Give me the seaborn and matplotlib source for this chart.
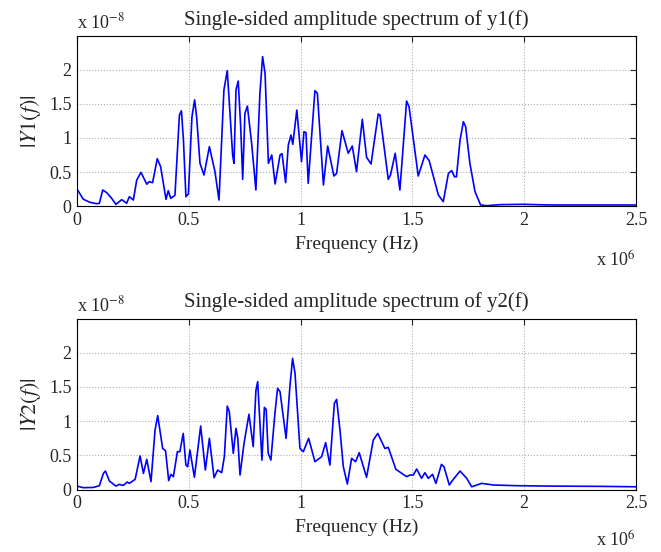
import numpy as np
import pandas as pd
import matplotlib
matplotlib.use("Agg")
import matplotlib.pyplot as plt
import seaborn as sns

# frequency in units of 1e6 Hz, amplitude in units of 1e-8
f1 = [0.0, 0.028, 0.058, 0.088, 0.100, 0.115, 0.133, 0.155, 0.174, 0.200, 0.222, 0.234, 0.252,
      0.267, 0.286, 0.312, 0.323, 0.338, 0.359, 0.374, 0.398, 0.408, 0.419, 0.438, 0.458,
      0.467, 0.476, 0.487, 0.498, 0.514, 0.526, 0.535, 0.550, 0.568, 0.592, 0.617, 0.635,
      0.657, 0.672, 0.696, 0.702, 0.711, 0.721, 0.732, 0.741, 0.751, 0.762, 0.781, 0.800,
      0.818, 0.830, 0.841, 0.856, 0.871, 0.886, 0.908, 0.917, 0.933, 0.945, 0.957, 0.965,
      0.983, 1.004, 1.015, 1.024, 1.034, 1.064, 1.075, 1.102, 1.121, 1.149, 1.161, 1.185,
      1.213, 1.231, 1.250, 1.276, 1.295, 1.315, 1.347, 1.355, 1.392, 1.402, 1.423, 1.444,
      1.474, 1.485, 1.526, 1.556, 1.575, 1.616, 1.638, 1.661, 1.676, 1.688, 1.697, 1.713,
      1.728, 1.738, 1.757, 1.780, 1.805, 1.832, 1.892, 1.996, 2.115, 2.264, 2.500]
y1 = [0.25, 0.10, 0.054, 0.034, 0.04, 0.235, 0.196, 0.113, 0.025, 0.093, 0.04, 0.137, 0.088,
      0.38, 0.495, 0.32, 0.358, 0.343, 0.696, 0.578, 0.098, 0.225, 0.113, 0.157, 1.338,
      1.40, 0.97, 0.137, 0.176, 1.31, 1.56, 1.31, 0.627, 0.456, 0.873, 0.505, 0.088,
      1.706, 1.99, 0.75, 0.627, 1.706, 1.838, 1.167, 0.392, 1.363, 1.47, 0.92, 0.235,
      1.657, 2.196, 1.95, 0.627, 0.75, 0.324, 0.75, 0.77, 0.343, 0.897, 1.044, 0.907,
      1.41, 0.652, 1.093, 1.078, 0.333, 1.696, 1.657, 0.309, 0.882, 0.441, 0.48, 1.108,
      0.775, 0.882, 0.505, 1.275, 0.716, 0.618, 1.353, 1.338, 0.392, 0.456, 0.775, 0.235,
      1.544, 1.46, 0.441, 0.75, 0.667, 0.162, 0.064, 0.48, 0.52, 0.43, 0.43, 0.97,
      1.24, 1.167, 0.627, 0.21, 0.015, 0.005, 0.02, 0.025, 0.015, 0.015, 0.015]

f2 = [0.0, 0.028, 0.073, 0.100, 0.118, 0.127, 0.145, 0.174, 0.189, 0.207, 0.225, 0.234, 0.260,
      0.282, 0.297, 0.312, 0.331, 0.349, 0.361, 0.383, 0.396, 0.410, 0.420, 0.431, 0.449,
      0.460, 0.475, 0.487, 0.495, 0.505, 0.525, 0.553, 0.574, 0.592, 0.613, 0.629, 0.647,
      0.659, 0.672, 0.681, 0.699, 0.711, 0.719, 0.729, 0.747, 0.769, 0.788, 0.800, 0.808,
      0.827, 0.838, 0.846, 0.855, 0.867, 0.885, 0.897, 0.908, 0.935, 0.952, 0.964, 0.975,
      0.997, 1.012, 1.036, 1.064, 1.094, 1.112, 1.131, 1.151, 1.161, 1.176, 1.191, 1.209,
      1.228, 1.246, 1.262, 1.295, 1.325, 1.345, 1.377, 1.392, 1.426, 1.474, 1.489, 1.504,
      1.519, 1.541, 1.556, 1.571, 1.590, 1.605, 1.630, 1.641, 1.665, 1.683, 1.713, 1.743,
      1.765, 1.810, 1.862, 1.966, 2.115, 2.339, 2.500]
y2 = [0.05, 0.027, 0.03, 0.056, 0.236, 0.27, 0.124, 0.05, 0.075, 0.06, 0.11, 0.09, 0.149,
      0.49, 0.236, 0.44, 0.115, 0.87, 1.08, 0.6, 0.568, 0.13, 0.222, 0.188, 0.553,
      0.553, 0.82, 0.358, 0.334, 0.577, 0.178, 0.928, 0.285, 0.748, 0.173, 0.285, 0.246,
      0.48, 1.22, 1.138, 0.529, 0.894, 0.748, 0.212, 0.675, 1.1, 0.626, 1.445, 1.577,
      0.43, 1.2, 1.17, 0.53, 0.43, 1.11, 1.48, 1.43, 0.748, 1.5, 1.917, 1.70,
      0.6, 0.553, 0.748, 0.407, 0.48, 0.685, 0.358, 1.26, 1.318, 0.87, 0.334, 0.08,
      0.455, 0.407, 0.538, 0.178, 0.724, 0.82, 0.6, 0.616, 0.295, 0.188, 0.212, 0.212,
      0.3, 0.163, 0.246, 0.163, 0.222, 0.09, 0.368, 0.334, 0.066, 0.149, 0.27, 0.163,
      0.04, 0.09, 0.066, 0.056, 0.05, 0.046, 0.04]

titles = ["Single-sided amplitude spectrum of y1(f)", "Single-sided amplitude spectrum of y2(f)"]
ylabels = [r"$|Y1(f)|$", r"$|Y2(f)|$"]
xticks = [0, 0.5, 1, 1.5, 2, 2.5]
xticklabels = ["0", "0.5", "1", "1.5", "2", "2.5"]
yticks = [0, 0.5, 1, 1.5, 2]
yticklabels = ["0", "0.5", "1", "1.5", "2"]

sns.set_style("white")
plt.rcParams["font.family"] = ["Liberation Serif", "DejaVu Serif"]
plt.rcParams["mathtext.fontset"] = "stix"

fig = plt.figure(figsize=(6.61, 5.52), dpi=100)
ax1 = fig.add_axes([0.1165, 0.6268, 0.8457, 0.308])
ax2 = fig.add_axes([0.1165, 0.1132, 0.8457, 0.3098])

series = [(f1, y1), (f2, y2)]
# the lower "x 10^6" sits a bit higher so it stays inside the figure
xexp_y = [-0.265, -0.24]
for ax, (f, y), title, ylab, ey in zip([ax1, ax2], series, titles, ylabels, xexp_y):
    df = pd.DataFrame({"freq": f, "amp": y})
    sns.lineplot(data=df, x="freq", y="amp", ax=ax, sort=False, color="#0000ff", linewidth=1.2)
    ax.set_xlim(0, 2.5)
    ax.set_ylim(0, 2.5)
    ax.set_xticks(xticks)
    ax.set_xticklabels(xticklabels)
    ax.set_yticks(yticks)
    ax.set_yticklabels(yticklabels)
    ax.tick_params(direction="in", top=True, right=True, labelsize=13, length=4, width=0.8, pad=4)
    ax.grid(True, color="#b0b0b0", linestyle=":", linewidth=0.8)
    for s in ax.spines.values():
        s.set_color("black")
        s.set_linewidth(0.8)
    ax.set_title(title, fontsize=15, pad=8)
    ax.set_xlabel("Frequency (Hz)", fontsize=14, labelpad=5)
    ax.set_ylabel(ylab, fontsize=16, labelpad=4)
    ax.text(0.0, 1.02, r"x 10$^{-8}$", transform=ax.transAxes, fontsize=13, ha="left", va="bottom")
    ax.text(1.0, ey, r"x 10$^{6}$", transform=ax.transAxes, fontsize=13, ha="right", va="top")

fig.savefig("out.png", dpi=100)
